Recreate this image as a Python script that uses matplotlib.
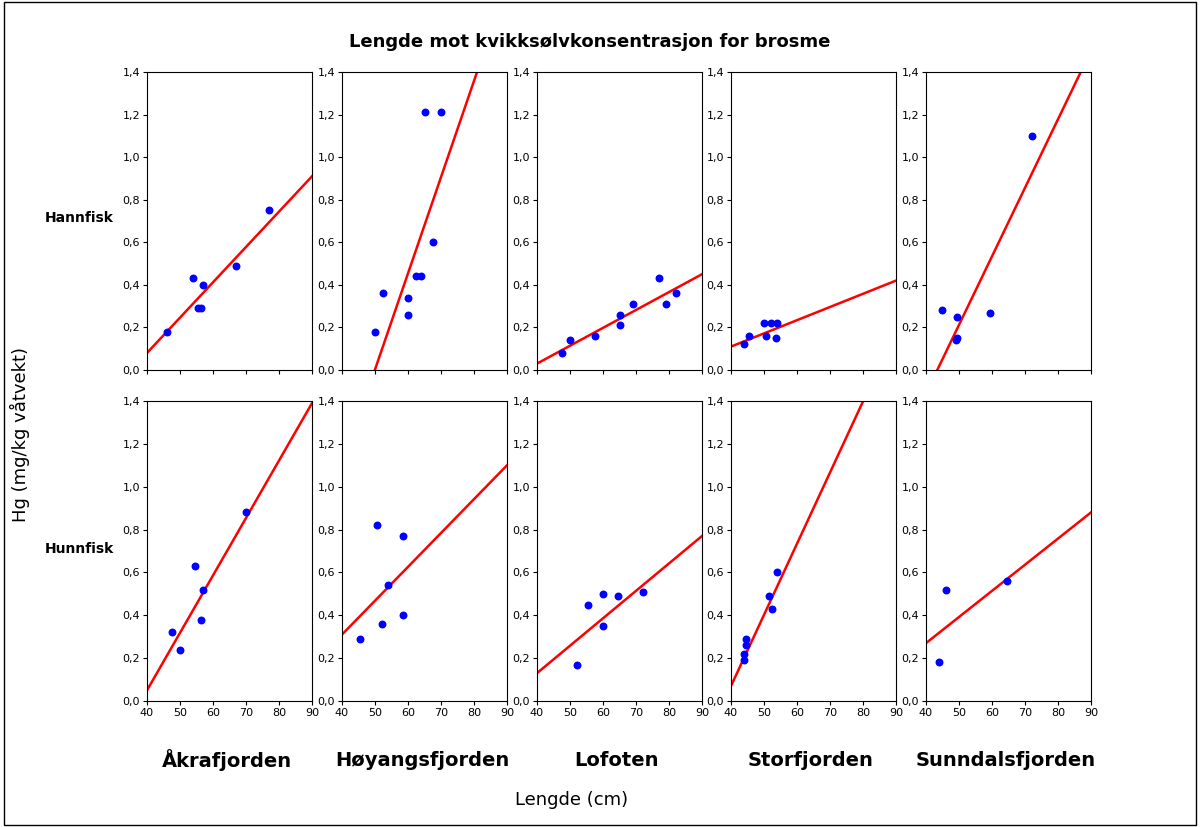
import numpy as np
import matplotlib.pyplot as plt
from matplotlib.ticker import FuncFormatter

fjords = ['Åkrafjorden', 'Høyangsfjorden', 'Lofoten', 'Storfjorden', 'Sunndalsfjorden']

# Hannfisk (top row): lengths, Hg values, fitted line y at 40 and 90 cm
male_x = [[46, 54, 57, 55.5, 56.5, 67, 77],
          [50, 52.5, 60, 60, 62.5, 64, 65, 70, 67.5],
          [47.5, 50, 57.5, 65, 65, 69, 77, 79, 82],
          [44, 45.5, 50, 50.5, 52, 54, 53.5],
          [45, 49, 49.5, 49.5, 59.5, 72]]
male_y = [[0.18, 0.43, 0.40, 0.29, 0.29, 0.49, 0.75],
          [0.18, 0.36, 0.34, 0.26, 0.44, 0.44, 1.21, 1.21, 0.60],
          [0.08, 0.14, 0.16, 0.26, 0.21, 0.31, 0.43, 0.31, 0.36],
          [0.12, 0.16, 0.22, 0.16, 0.22, 0.22, 0.15],
          [0.28, 0.14, 0.15, 0.25, 0.27, 1.10]]
male_line = [(0.08, 0.91), (-0.45, 1.81), (0.03, 0.45), (0.11, 0.42), (-0.11, 1.50)]

# Hunnfisk (bottom row)
female_x = [[47.5, 50, 54.5, 57, 56.5, 70],
            [45.5, 50.5, 52, 54, 58.5, 58.5],
            [52, 55.5, 60, 60, 64.5, 72],
            [44, 44, 44.5, 44.5, 51.5, 52.5, 54],
            [44, 46, 64.5]]
female_y = [[0.32, 0.24, 0.63, 0.52, 0.38, 0.88],
            [0.29, 0.82, 0.36, 0.54, 0.77, 0.40],
            [0.17, 0.45, 0.50, 0.35, 0.49, 0.51],
            [0.19, 0.22, 0.26, 0.29, 0.49, 0.43, 0.60],
            [0.18, 0.52, 0.56]]
female_line = [(0.05, 1.39), (0.31, 1.10), (0.13, 0.77), (0.07, 1.73), (0.27, 0.88)]

fig = plt.figure(figsize=(12, 8.27), dpi=100)
comma = FuncFormatter(lambda v, p: f'{v:.1f}'.replace('.', ','))

lefts = [147, 342, 537, 731, 926]
rows = [(72, 370, male_x, male_y, male_line, False),
        (401, 701, female_x, female_y, female_line, True)]
for top, bot, xs, ys, lines, show_x in rows:
    for i in range(5):
        ax = fig.add_axes([lefts[i] / 1200, 1 - bot / 827, 165 / 1200, (bot - top) / 827])
        ax.plot([40, 90], lines[i], color='red', lw=1.8, zorder=2)
        ax.scatter(xs[i], ys[i], color='blue', s=22, marker='o', zorder=3)
        ax.set_xlim(40, 90)
        ax.set_ylim(0, 1.4)
        ax.set_xticks(range(40, 91, 10))
        ax.set_yticks(np.arange(0, 1.41, 0.2))
        ax.yaxis.set_major_formatter(comma)
        ax.tick_params(labelsize=8, length=3, pad=2)
        if not show_x:
            ax.set_xticklabels([])

for i, name in enumerate(fjords):
    fig.text((lefts[i] + 80) / 1200, 1 - 760 / 827, name, ha='center', va='center',
             fontsize=14, fontweight='bold')

fig.text(590 / 1200, 1 - 42 / 827, 'Lengde mot kvikksølvkonsentrasjon for brosme',
         ha='center', va='center', fontsize=13, fontweight='bold')
fig.text(45 / 1200, 1 - 218 / 827, 'Hannfisk', ha='left', va='center', fontsize=10, fontweight='bold')
fig.text(45 / 1200, 1 - 549 / 827, 'Hunnfisk', ha='left', va='center', fontsize=10, fontweight='bold')
fig.text(20 / 1200, 1 - 435 / 827, 'Hg (mg/kg våtvekt)', ha='center', va='center',
         rotation=90, fontsize=13)
fig.text(572 / 1200, 1 - 800 / 827, 'Lengde (cm)', ha='center', va='center', fontsize=13)

fig.patches.append(plt.Rectangle((0.003, 0.003), 0.994, 0.994, transform=fig.transFigure,
                                 fill=False, edgecolor='black', lw=1))

plt.savefig('out.png')
